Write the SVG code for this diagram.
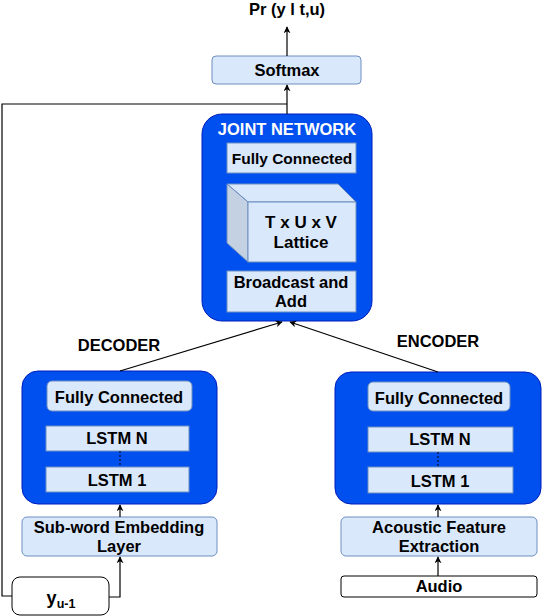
<svg xmlns="http://www.w3.org/2000/svg" width="542" height="616" viewBox="0 0 542 616">
<defs>
<marker id="arr" viewBox="0 0 10 10" refX="9" refY="5" markerWidth="7" markerHeight="7" markerUnits="userSpaceOnUse" orient="auto">
<path d="M0,0 L10,5 L0,10 L3,5 Z" fill="#000"/>
</marker>
</defs>
<style>
text{font-family:"Liberation Sans",Arial,sans-serif;font-weight:bold;fill:#000;text-anchor:middle;font-size:16.5px}
.blue{fill:#0050ef;stroke:#001dbc;stroke-width:1}
.lt{fill:#dae8fc;stroke:#6c8ebf;stroke-width:1}
.wh{fill:#fff;stroke:#000;stroke-width:1}
.conn{fill:none;stroke:#000;stroke-width:1.2}
.t15{font-size:15.5px}
.t17{font-size:17px}
</style>
<rect width="542" height="616" fill="#fff"/>
<text x="287" y="15">Pr (y l t,u)</text>
<g id="softmax"><rect class="lt" x="212" y="56" width="149" height="28" rx="4"/><text x="287" y="76">Softmax</text></g>
<g id="joint">
<rect class="blue" x="202" y="114" width="170" height="207" rx="20"/>
<text x="287" y="135" style="fill:#fff">JOINT NETWORK</text>
<rect class="lt" x="227" y="143" width="129" height="30"/>
<text class="t15" x="292" y="164">Fully Connected</text>
<path d="M227,184 L338,184 L356,202 L248,202 Z" fill="#dae8fc" stroke="#6c8ebf"/>
<path d="M227,184 L248,202 L248,262 L227,243 Z" fill="#c3d1e3" stroke="#6c8ebf"/>
<rect class="lt" x="248" y="202" width="108" height="60"/>
<text class="t17" x="301" y="228">T x U x V</text>
<text class="t17" x="301" y="248">Lattice</text>
<rect class="lt" x="227" y="271" width="129" height="41"/>
<text x="291" y="288">Broadcast and</text>
<text x="291" y="307">Add</text>
</g>
<g id="decoder">
<text x="119" y="351">DECODER</text>
<rect class="blue" x="22" y="371" width="195" height="133" rx="16"/>
<rect class="lt" x="47" y="381" width="145" height="30" rx="5"/>
<text x="119" y="403">Fully Connected</text>
<rect class="lt" x="46" y="426" width="143" height="25"/>
<text x="117" y="444">LSTM N</text>
<rect class="lt" x="46" y="467" width="143" height="25"/>
<text x="117" y="486">LSTM 1</text>
<line x1="120" y1="451" x2="120" y2="467" stroke="#000" stroke-dasharray="2,2"/>
</g>
<g id="encoder">
<text x="438" y="347">ENCODER</text>
<rect class="blue" x="335" y="372" width="206" height="132" rx="16"/>
<rect class="lt" x="368" y="382" width="142" height="29" rx="5"/>
<text x="439" y="404">Fully Connected</text>
<rect class="lt" x="368" y="427" width="145" height="25"/>
<text x="440" y="445">LSTM N</text>
<rect class="lt" x="368" y="467" width="145" height="26"/>
<text x="440" y="487">LSTM 1</text>
<line x1="438" y1="452" x2="438" y2="467" stroke="#000" stroke-dasharray="2,2"/>
</g>
<g id="embedding"><rect class="lt" x="22" y="517" width="195" height="39" rx="5"/><text x="119" y="533">Sub-word Embedding</text><text x="119" y="552">Layer</text></g>
<g id="acoustic"><rect class="lt" x="341" y="517" width="196" height="39" rx="5"/><text x="439" y="533">Acoustic Feature</text><text x="439" y="552">Extraction</text></g>
<g id="audio"><rect class="wh" x="341" y="576" width="196" height="21" rx="3"/><text x="439" y="592">Audio</text></g>
<g id="yu"><rect class="wh" x="12" y="577" width="97" height="38" rx="8"/><text x="61" y="604" style="font-size:18px">y<tspan style="font-size:12.5px" dy="4">u-1</tspan></text></g>
<g id="connectors">
<line class="conn" x1="287" y1="56" x2="287" y2="27" marker-end="url(#arr)"/>
<line class="conn" x1="287" y1="114" x2="287" y2="85" marker-end="url(#arr)"/>
<polyline class="conn" points="12,596 2,596 2,104 287,104"/>
<line class="conn" x1="120" y1="371" x2="282" y2="322" marker-end="url(#arr)"/>
<line class="conn" x1="438" y1="372" x2="290" y2="322" marker-end="url(#arr)"/>
<line class="conn" x1="120" y1="517" x2="120" y2="505" marker-end="url(#arr)"/>
<polyline class="conn" points="109,597 120,597 120,557" marker-end="url(#arr)"/>
<line class="conn" x1="438" y1="517" x2="438" y2="505" marker-end="url(#arr)"/>
<line class="conn" x1="438" y1="576" x2="438" y2="557" marker-end="url(#arr)"/>
</g>
</svg>
